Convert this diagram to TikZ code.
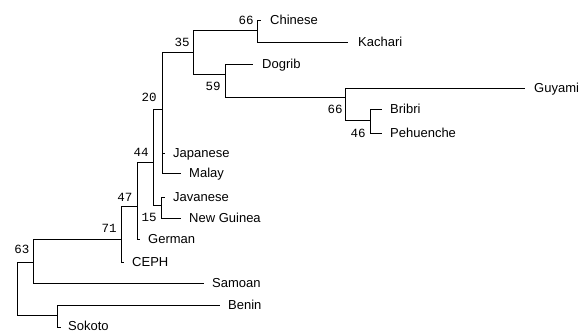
\documentclass[tikz,border=0pt]{standalone}
\usepackage{fontspec}
\setmainfont{Liberation Sans}
\newfontfamily\numfont{Liberation Mono}
\begin{document}
\begin{tikzpicture}[x=1pt,y=-1pt,
  edge/.style={draw=black,line width=1pt},
  leaf/.style={anchor=west,inner sep=0pt,text height=9.3pt,text depth=0pt,font=\fontsize{13}{13}\selectfont},
  boot/.style={anchor=center,inner sep=0pt,text height=8pt,text depth=0pt,font=\numfont\fontsize{12.5}{12.5}\selectfont}]
\useasboundingbox (0,0) rectangle (581,332);
% internal nodes
\coordinate (root) at (17,262);
\coordinate (n63) at (33,262);
\coordinate (n71) at (121,239);
\coordinate (n47) at (137,206);
\coordinate (n44) at (153,162);
\coordinate (n20) at (162,109);
\coordinate (n35) at (193,52);
\coordinate (n66a) at (257,30);
\coordinate (n59) at (225,74);
\coordinate (n66b) at (345,97);
\coordinate (n46) at (370,120);
\coordinate (n15) at (161,205);
\coordinate (nBS) at (57,315);
% tips
\coordinate (tChinese) at (261,20);
\coordinate (tKachari) at (348,42);
\coordinate (tDogrib) at (253,64);
\coordinate (tGuyami) at (525,88);
\coordinate (tBribri) at (382,109);
\coordinate (tPehuenche) at (382,133);
\coordinate (tJapanese) at (165,153);
\coordinate (tMalay) at (181,173);
\coordinate (tJavanese) at (165,197);
\coordinate (tNewGuinea) at (181,218);
\coordinate (tGerman) at (140,239);
\coordinate (tCEPH) at (124,262);
\coordinate (tSamoan) at (204,283);
\coordinate (tBenin) at (220,305);
\coordinate (tSokoto) at (61,327);
% leaf labels
\node[leaf] (Chinese) at (270,20) {Chinese};
\node[leaf] (Kachari) at (358,42) {Kachari};
\node[leaf] (Dogrib) at (262,64) {Dogrib};
\node[leaf] (Guyami) at (534,88) {Guyami};
\node[leaf] (Bribri) at (390,109) {Bribri};
\node[leaf] (Pehuenche) at (390,133) {Pehuenche};
\node[leaf] (Japanese) at (173,153) {Japanese};
\node[leaf] (Malay) at (189,173) {Malay};
\node[leaf] (Javanese) at (173,197) {Javanese};
\node[leaf] (NewGuinea) at (189,218) {New Guinea};
\node[leaf] (German) at (148,239) {German};
\node[leaf] (CEPH) at (132,262) {CEPH};
\node[leaf] (Samoan) at (212,283) {Samoan};
\node[leaf] (Benin) at (228,305) {Benin};
\node[leaf] (Sokoto) at (68,325.5) {Sokoto};
% bootstrap values
\node[boot] (b66a) at (246,20) {66};
\node[boot] (b35) at (182,42) {35};
\node[boot] (b59) at (213,86) {59};
\node[boot] (b20) at (149,97) {20};
\node[boot] (b44) at (141,152) {44};
\node[boot] (b66b) at (335,109) {66};
\node[boot] (b46) at (358,133) {46};
\node[boot] (b47) at (125,197) {47};
\node[boot] (b15) at (149,217) {15};
\node[boot] (b71) at (109,228) {71};
\node[boot] (b63) at (22,249) {63};
% edges
\draw[edge] (root) |- (n63);
\draw[edge] (root) |- (nBS);
\draw[edge] (nBS) |- (tBenin);
\draw[edge] (nBS) |- (tSokoto);
\draw[edge] (n63) |- (n71);
\draw[edge] (n63) |- (tSamoan);
\draw[edge] (n71) |- (n47);
\draw[edge] (n71) |- (tCEPH);
\draw[edge] (n47) |- (n44);
\draw[edge] (n47) |- (tGerman);
\draw[edge] (n44) |- (n20);
\draw[edge] (n44) |- (n15);
\draw[edge] (n15) |- (tJavanese);
\draw[edge] (n15) |- (tNewGuinea);
\draw[edge] (n20) |- (n35);
\draw[edge] (n20) |- (tJapanese);
\draw[edge] (n20) |- (tMalay);
\draw[edge] (n35) |- (n66a);
\draw[edge] (n35) |- (n59);
\draw[edge] (n66a) |- (tChinese);
\draw[edge] (n66a) |- (tKachari);
\draw[edge] (n59) |- (tDogrib);
\draw[edge] (n59) |- (n66b);
\draw[edge] (n66b) |- (tGuyami);
\draw[edge] (n66b) |- (n46);
\draw[edge] (n46) |- (tBribri);
\draw[edge] (n46) |- (tPehuenche);
\end{tikzpicture}
\end{document}
